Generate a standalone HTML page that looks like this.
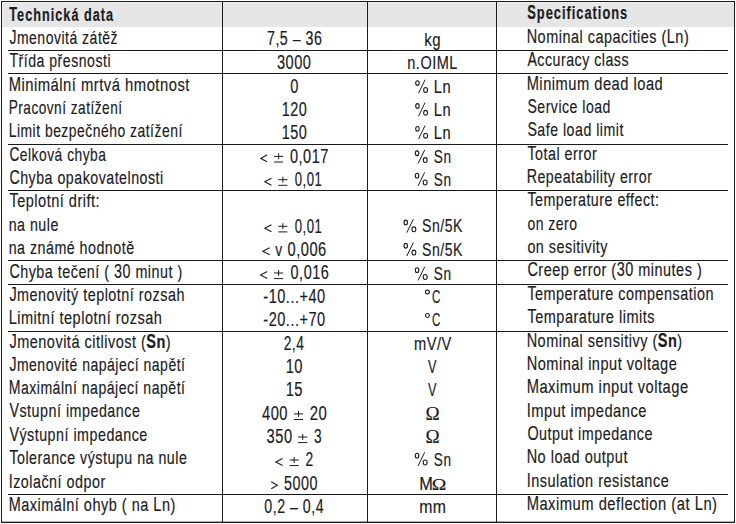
<!DOCTYPE html>
<html><head><meta charset="utf-8"><style>
html,body{margin:0;padding:0;background:#fff;}
body{width:736px;height:524px;overflow:hidden;}
svg{display:block;}
text{font-family:"Liberation Sans",sans-serif;font-size:19.2px;fill:#1b1b22;stroke:#1b1b22;stroke-width:0.18px;white-space:pre;}
text.b{stroke-width:0.2px;}
text.b{font-weight:bold;}
.sym{fill:none;stroke:#1b1b22;stroke-width:1.1px;stroke-linejoin:miter;}
.sym2{fill:none;stroke:#1b1b22;stroke-width:1px;}
.sym3{fill:none;stroke:#1b1b22;stroke-width:1.1px;}
text.rs,text.bs{font-family:"Liberation Serif",serif;}
</style></head><body>
<svg width="736" height="524" viewBox="0 0 736 524">
<rect x="0" y="0" width="736" height="524" fill="#fff"/>
<rect x="2" y="2" width="732" height="25" fill="#f2f2f2"/>
<rect x="3" y="3" width="731" height="24" fill="#e6e6e6"/>
<rect x="1" y="1" width="734" height="1" fill="#1a1a1a"/>
<rect x="1" y="522" width="734" height="1" fill="#1a1a1a"/>
<rect x="1" y="521" width="734" height="1" fill="#1a1a1a" fill-opacity="0.35"/>
<rect x="1" y="1" width="1" height="522" fill="#1a1a1a"/>
<rect x="734" y="1" width="1" height="522" fill="#1a1a1a"/>
<rect x="8" y="50" width="720" height="1" fill="#1a1a1a"/>
<rect x="8" y="73" width="720" height="1" fill="#1a1a1a"/>
<rect x="8" y="144" width="720" height="1" fill="#1a1a1a"/>
<rect x="8" y="190" width="720" height="1" fill="#1a1a1a"/>
<rect x="8" y="260" width="720" height="1" fill="#1a1a1a"/>
<rect x="8" y="284" width="720" height="1" fill="#1a1a1a"/>
<rect x="8" y="331" width="720" height="1" fill="#1a1a1a"/>
<rect x="8" y="494" width="720" height="1" fill="#1a1a1a"/>
<rect x="222" y="1" width="1" height="522" fill="#1a1a1a"/>
<rect x="367" y="1" width="1" height="522" fill="#1a1a1a"/>
<rect x="496" y="1" width="1" height="522" fill="#1a1a1a"/>
<text class="b" transform="translate(9.30 20.80) scale(0.6616 1.040)" style="letter-spacing:1.511px">T</text>
<text class="b" transform="translate(17.11 20.80) scale(0.6616 1.000)" style="letter-spacing:1.511px">echnická data</text>
<text class="b" transform="translate(527.30 18.60) scale(0.6684 1.040)" style="letter-spacing:1.496px">S</text>
<text class="b" transform="translate(536.85 18.60) scale(0.6684 1.000)" style="letter-spacing:1.496px">pecifications</text>
<text class="r" transform="translate(9.40 44.00) scale(0.7295 1.040)" style="letter-spacing:0.685px">J</text>
<text class="r" transform="translate(16.90 44.00) scale(0.7295 1.000)" style="letter-spacing:0.685px">menovitá zátěž</text>
<text class="r" transform="translate(9.40 66.70) scale(0.7356 1.040)" style="letter-spacing:0.680px">T</text>
<text class="r" transform="translate(18.52 66.70) scale(0.7356 1.000)" style="letter-spacing:0.680px">řída přesnosti</text>
<text class="r" transform="translate(8.63 90.80) scale(0.7710 1.040)" style="letter-spacing:0.649px">M</text>
<text class="r" transform="translate(21.45 90.80) scale(0.7710 1.000)" style="letter-spacing:0.649px">inimální mrtvá hmotnost</text>
<text class="r" transform="translate(8.69 113.80) scale(0.7106 1.040)" style="letter-spacing:0.704px">P</text>
<text class="r" transform="translate(18.28 113.80) scale(0.7106 1.000)" style="letter-spacing:0.704px">racovní zatížení</text>
<text class="r" transform="translate(8.67 136.70) scale(0.7251 1.040)" style="letter-spacing:0.690px">L</text>
<text class="r" transform="translate(16.91 136.70) scale(0.7251 1.000)" style="letter-spacing:0.690px">imit bezpečného zatížení</text>
<text class="r" transform="translate(9.40 160.50) scale(0.7196 1.040)" style="letter-spacing:0.695px">C</text>
<text class="r" transform="translate(19.87 160.50) scale(0.7196 1.000)" style="letter-spacing:0.695px">elková chyba</text>
<text class="r" transform="translate(9.40 183.80) scale(0.7409 1.040)" style="letter-spacing:0.675px">C</text>
<text class="r" transform="translate(20.17 183.80) scale(0.7409 1.000)" style="letter-spacing:0.675px">hyba opakovatelnosti</text>
<text class="r" transform="translate(9.40 206.60) scale(0.7575 1.040)" style="letter-spacing:0.660px">T</text>
<text class="r" transform="translate(17.17 206.60) scale(0.7575 1.000)" style="letter-spacing:0.660px">eplotní drift:</text>
<text class="r" transform="translate(8.66 230.50) scale(0.7425 1.000)" style="letter-spacing:0.673px">na nule</text>
<text class="r" transform="translate(8.66 253.80) scale(0.7420 1.000)" style="letter-spacing:0.674px">na známé hodnotě</text>
<text class="r" transform="translate(9.40 277.60) scale(0.7464 1.040)" style="letter-spacing:0.670px">C</text>
<text class="r" transform="translate(20.24 277.60) scale(0.7464 1.000)" style="letter-spacing:0.670px">hyba tečení ( </text>
<text class="r" transform="translate(114.02 277.60) scale(0.7464 1.040)" style="letter-spacing:0.670px">30</text>
<text class="r" transform="translate(130.94 277.60) scale(0.7464 1.000)" style="letter-spacing:0.670px"> minut )</text>
<text class="r" transform="translate(9.40 301.10) scale(0.7497 1.040)" style="letter-spacing:0.667px">J</text>
<text class="r" transform="translate(17.09 301.10) scale(0.7497 1.000)" style="letter-spacing:0.667px">menovitý teplotní rozsah</text>
<text class="r" transform="translate(8.64 323.80) scale(0.7579 1.040)" style="letter-spacing:0.660px">L</text>
<text class="r" transform="translate(17.23 323.80) scale(0.7579 1.000)" style="letter-spacing:0.660px">imitní teplotní rozsah</text>
<text class="r" transform="translate(9.40 348.00) scale(0.7553 1.040)" style="letter-spacing:0.662px">J</text>
<text class="r" transform="translate(17.15 348.00) scale(0.7553 1.000)" style="letter-spacing:0.662px">menovitá citlivost (</text>
<text class="b" transform="translate(146.35 348.00) scale(0.7553 1.040)" style="letter-spacing:0.662px">S</text>
<text class="b" transform="translate(156.51 348.00) scale(0.7553 1.000)" style="letter-spacing:0.662px">n</text>
<text class="r" transform="translate(165.87 348.00) scale(0.7553 1.000)" style="letter-spacing:0.662px">)</text>
<text class="r" transform="translate(9.40 370.50) scale(0.7304 1.040)" style="letter-spacing:0.685px">J</text>
<text class="r" transform="translate(16.91 370.50) scale(0.7304 1.000)" style="letter-spacing:0.685px">menovité napájecí napětí</text>
<text class="r" transform="translate(8.67 393.80) scale(0.7337 1.040)" style="letter-spacing:0.681px">M</text>
<text class="r" transform="translate(20.89 393.80) scale(0.7337 1.000)" style="letter-spacing:0.681px">aximální napájecí napětí</text>
<text class="r" transform="translate(9.40 417.40) scale(0.7458 1.040)" style="letter-spacing:0.670px">V</text>
<text class="r" transform="translate(19.44 417.40) scale(0.7458 1.000)" style="letter-spacing:0.670px">stupní impedance</text>
<text class="r" transform="translate(9.40 440.80) scale(0.7449 1.040)" style="letter-spacing:0.671px">V</text>
<text class="r" transform="translate(19.43 440.80) scale(0.7449 1.000)" style="letter-spacing:0.671px">ýstupní impedance</text>
<text class="r" transform="translate(9.40 463.80) scale(0.7424 1.040)" style="letter-spacing:0.674px">T</text>
<text class="r" transform="translate(17.02 463.80) scale(0.7424 1.000)" style="letter-spacing:0.674px">olerance výstupu na nule</text>
<text class="r" transform="translate(8.65 488.00) scale(0.7466 1.040)" style="letter-spacing:0.670px">I</text>
<text class="r" transform="translate(13.13 488.00) scale(0.7466 1.000)" style="letter-spacing:0.670px">zolační odpor</text>
<text class="r" transform="translate(8.64 510.80) scale(0.7562 1.040)" style="letter-spacing:0.661px">M</text>
<text class="r" transform="translate(21.23 510.80) scale(0.7562 1.000)" style="letter-spacing:0.661px">aximální ohyb ( na </text>
<text class="r" transform="translate(153.32 510.80) scale(0.7562 1.040)" style="letter-spacing:0.661px">L</text>
<text class="r" transform="translate(161.89 510.80) scale(0.7562 1.000)" style="letter-spacing:0.661px">n)</text>
<text class="r" transform="translate(267.00 45.40) scale(0.7411 1.010)" style="letter-spacing:0.675px">7</text>
<text class="r" transform="translate(275.41 45.40) scale(0.7411 1.000)" style="letter-spacing:0.675px">,</text>
<text class="r" transform="translate(279.86 45.40) scale(0.7411 1.010)" style="letter-spacing:0.675px">5</text>
<text class="r" transform="translate(288.27 45.40) scale(0.7411 1.000)" style="letter-spacing:0.675px"> – </text>
<text class="r" transform="translate(305.58 45.40) scale(0.7411 1.010)" style="letter-spacing:0.675px">36</text>
<text class="r" transform="translate(277.00 68.50) scale(0.7593 1.010)" style="letter-spacing:0.659px">3000</text>
<text class="r" transform="translate(290.30 92.50) scale(0.7600 1.010)" style="letter-spacing:0.658px">0</text>
<text class="r" transform="translate(281.65 115.60) scale(0.7514 1.010)" style="letter-spacing:0.665px">120</text>
<text class="r" transform="translate(281.65 138.50) scale(0.7514 1.010)" style="letter-spacing:0.665px">150</text>
<text class="r" transform="translate(290.00 162.60) scale(0.7562 1.010)" style="letter-spacing:0.661px">0</text>
<text class="r" transform="translate(298.57 162.60) scale(0.7562 1.000)" style="letter-spacing:0.661px">,</text>
<text class="r" transform="translate(303.10 162.60) scale(0.7562 1.010)" style="letter-spacing:0.661px">017</text>
<text class="r" transform="translate(294.80 185.90) scale(0.6817 1.010)" style="letter-spacing:0.733px">0</text>
<text class="r" transform="translate(302.57 185.90) scale(0.6817 1.000)" style="letter-spacing:0.733px">,</text>
<text class="r" transform="translate(306.71 185.90) scale(0.6817 1.010)" style="letter-spacing:0.733px">01</text>
<text class="r" transform="translate(294.70 232.50) scale(0.6871 1.010)" style="letter-spacing:0.728px">0</text>
<text class="r" transform="translate(302.53 232.50) scale(0.6871 1.000)" style="letter-spacing:0.728px">,</text>
<text class="r" transform="translate(306.70 232.50) scale(0.6871 1.010)" style="letter-spacing:0.728px">01</text>
<text class="r" transform="translate(275.30 255.50) scale(0.7200 1.000)" style="letter-spacing:0.694px">v</text>
<text class="r" transform="translate(287.50 255.50) scale(0.7646 1.010)" style="letter-spacing:0.654px">0</text>
<text class="r" transform="translate(296.16 255.50) scale(0.7646 1.000)" style="letter-spacing:0.654px">,</text>
<text class="r" transform="translate(300.74 255.50) scale(0.7646 1.010)" style="letter-spacing:0.654px">006</text>
<text class="r" transform="translate(290.60 279.20) scale(0.7519 1.010)" style="letter-spacing:0.665px">0</text>
<text class="r" transform="translate(299.12 279.20) scale(0.7519 1.000)" style="letter-spacing:0.665px">,</text>
<text class="r" transform="translate(303.63 279.20) scale(0.7519 1.010)" style="letter-spacing:0.665px">016</text>
<text class="r" transform="translate(263.30 302.60) scale(0.7592 1.000)" style="letter-spacing:0.659px">-</text>
<text class="r" transform="translate(268.65 302.60) scale(0.7592 1.010)" style="letter-spacing:0.659px">10</text>
<text class="r" transform="translate(285.86 302.60) scale(0.7592 1.000)" style="letter-spacing:0.659px">...+</text>
<text class="r" transform="translate(308.51 302.60) scale(0.7592 1.010)" style="letter-spacing:0.659px">40</text>
<text class="r" transform="translate(263.30 325.60) scale(0.7592 1.000)" style="letter-spacing:0.659px">-</text>
<text class="r" transform="translate(268.65 325.60) scale(0.7592 1.010)" style="letter-spacing:0.659px">20</text>
<text class="r" transform="translate(285.86 325.60) scale(0.7592 1.000)" style="letter-spacing:0.659px">...+</text>
<text class="r" transform="translate(308.51 325.60) scale(0.7592 1.010)" style="letter-spacing:0.659px">70</text>
<text class="r" transform="translate(283.70 350.00) scale(0.7185 1.010)" style="letter-spacing:0.696px">2</text>
<text class="r" transform="translate(291.87 350.00) scale(0.7185 1.000)" style="letter-spacing:0.696px">,</text>
<text class="r" transform="translate(296.20 350.00) scale(0.7185 1.010)" style="letter-spacing:0.696px">4</text>
<text class="r" transform="translate(285.63 372.60) scale(0.7676 1.010)" style="letter-spacing:0.651px">10</text>
<text class="r" transform="translate(285.63 395.60) scale(0.7676 1.010)" style="letter-spacing:0.651px">15</text>
<text class="r" transform="translate(262.00 420.10) scale(0.7657 1.010)" style="letter-spacing:0.653px">400</text>
<text class="r" transform="translate(309.80 420.10) scale(0.7740 1.010)" style="letter-spacing:0.646px">20</text>
<text class="r" transform="translate(266.60 443.20) scale(0.7625 1.010)" style="letter-spacing:0.656px">350</text>
<text class="r" transform="translate(314.10 443.20) scale(0.7100 1.010)" style="letter-spacing:0.704px">3</text>
<text class="r" transform="translate(305.40 466.20) scale(0.7200 1.010)" style="letter-spacing:0.694px">2</text>
<text class="r" transform="translate(284.10 489.50) scale(0.7498 1.010)" style="letter-spacing:0.667px">5000</text>
<text class="r" transform="translate(264.30 512.80) scale(0.7399 1.010)" style="letter-spacing:0.676px">0</text>
<text class="r" transform="translate(272.70 512.80) scale(0.7399 1.000)" style="letter-spacing:0.676px">,</text>
<text class="r" transform="translate(277.14 512.80) scale(0.7399 1.010)" style="letter-spacing:0.676px">2</text>
<text class="r" transform="translate(285.54 512.80) scale(0.7399 1.000)" style="letter-spacing:0.676px"> – </text>
<text class="r" transform="translate(302.82 512.80) scale(0.7399 1.010)" style="letter-spacing:0.676px">0</text>
<text class="r" transform="translate(311.22 512.80) scale(0.7399 1.000)" style="letter-spacing:0.676px">,</text>
<text class="r" transform="translate(315.66 512.80) scale(0.7399 1.010)" style="letter-spacing:0.676px">4</text>
<text class="r" transform="translate(424.32 45.80) scale(0.7798 1.000)" style="letter-spacing:0.641px">kg</text>
<text class="r" transform="translate(407.24 68.70) scale(0.7583 1.000)" style="letter-spacing:0.659px">n.</text>
<text class="r" transform="translate(420.38 68.70) scale(0.7583 1.000)" style="letter-spacing:0.659px">OIML</text>
<text class="r" transform="translate(433.84 92.90) scale(0.7625 1.000)" style="letter-spacing:0.656px">L</text>
<text class="r" transform="translate(442.47 92.90) scale(0.7625 1.000)" style="letter-spacing:0.656px">n</text>
<text class="r" transform="translate(433.84 115.80) scale(0.7625 1.000)" style="letter-spacing:0.656px">L</text>
<text class="r" transform="translate(442.47 115.80) scale(0.7625 1.000)" style="letter-spacing:0.656px">n</text>
<text class="r" transform="translate(433.84 138.70) scale(0.7625 1.000)" style="letter-spacing:0.656px">L</text>
<text class="r" transform="translate(442.47 138.70) scale(0.7625 1.000)" style="letter-spacing:0.656px">n</text>
<text class="r" transform="translate(433.80 163.10) scale(0.7106 1.000)" style="letter-spacing:0.704px">S</text>
<text class="r" transform="translate(443.39 163.10) scale(0.7106 1.000)" style="letter-spacing:0.704px">n</text>
<text class="r" transform="translate(433.80 185.50) scale(0.7106 1.000)" style="letter-spacing:0.704px">S</text>
<text class="r" transform="translate(443.39 185.50) scale(0.7106 1.000)" style="letter-spacing:0.704px">n</text>
<text class="r" transform="translate(422.10 232.30) scale(0.7337 1.000)" style="letter-spacing:0.681px">S</text>
<text class="r" transform="translate(431.99 232.30) scale(0.7337 1.000)" style="letter-spacing:0.681px">n/</text>
<text class="r" transform="translate(444.73 232.30) scale(0.7337 1.000)" style="letter-spacing:0.681px">5K</text>
<text class="r" transform="translate(422.10 255.60) scale(0.7337 1.000)" style="letter-spacing:0.681px">S</text>
<text class="r" transform="translate(431.99 255.60) scale(0.7337 1.000)" style="letter-spacing:0.681px">n/</text>
<text class="r" transform="translate(444.73 255.60) scale(0.7337 1.000)" style="letter-spacing:0.681px">5K</text>
<text class="r" transform="translate(433.80 280.00) scale(0.7106 1.000)" style="letter-spacing:0.704px">S</text>
<text class="r" transform="translate(443.39 280.00) scale(0.7106 1.000)" style="letter-spacing:0.704px">n</text>
<text class="r" transform="translate(432.00 302.50) scale(0.6000 1.000)" style="letter-spacing:0.833px">C</text>
<text class="r" transform="translate(432.00 325.70) scale(0.6000 1.000)" style="letter-spacing:0.833px">C</text>
<text class="r" transform="translate(413.94 350.10) scale(0.7634 1.000)" style="letter-spacing:0.655px">m</text>
<text class="r" transform="translate(426.64 350.10) scale(0.7634 1.000)" style="letter-spacing:0.655px">V</text>
<text class="r" transform="translate(436.91 350.10) scale(0.7634 1.000)" style="letter-spacing:0.655px">/</text>
<text class="r" transform="translate(441.48 350.10) scale(0.7634 1.000)" style="letter-spacing:0.655px">V</text>
<text class="r" transform="translate(428.10 372.50) scale(0.6615 1.000)" style="letter-spacing:0.756px">V</text>
<text class="r" transform="translate(428.10 395.80) scale(0.6615 1.000)" style="letter-spacing:0.756px">V</text>
<text class="rs" transform="translate(425.51 419.80) scale(0.9923 1.000)" style="letter-spacing:0.504px">Ω</text>
<text class="rs" transform="translate(425.51 442.60) scale(0.9923 1.000)" style="letter-spacing:0.504px">Ω</text>
<text class="r" transform="translate(433.80 465.50) scale(0.7106 1.000)" style="letter-spacing:0.704px">S</text>
<text class="r" transform="translate(443.39 465.50) scale(0.7106 1.000)" style="letter-spacing:0.704px">n</text>
<text class="r" transform="translate(419.15 490.00) scale(0.8500 1.000)" style="letter-spacing:0.588px">M</text>
<text class="rs" transform="translate(431.78 489.70) scale(1.0231 0.840)" style="letter-spacing:0.489px">Ω</text>
<text class="r" transform="translate(419.18 512.80) scale(0.8238 1.000)" style="letter-spacing:0.607px">mm</text>
<text class="r" transform="translate(526.65 42.70) scale(0.7534 1.040)" style="letter-spacing:0.664px">N</text>
<text class="r" transform="translate(537.59 42.70) scale(0.7534 1.000)" style="letter-spacing:0.664px">ominal capacities (</text>
<text class="r" transform="translate(666.80 42.70) scale(0.7534 1.040)" style="letter-spacing:0.664px">L</text>
<text class="r" transform="translate(675.34 42.70) scale(0.7534 1.000)" style="letter-spacing:0.664px">n)</text>
<text class="r" transform="translate(527.40 66.10) scale(0.7389 1.040)" style="letter-spacing:0.677px">A</text>
<text class="r" transform="translate(537.36 66.10) scale(0.7389 1.000)" style="letter-spacing:0.677px">ccuracy class</text>
<text class="r" transform="translate(526.63 89.80) scale(0.7655 1.040)" style="letter-spacing:0.653px">M</text>
<text class="r" transform="translate(539.37 89.80) scale(0.7655 1.000)" style="letter-spacing:0.653px">inimum dead load</text>
<text class="r" transform="translate(527.40 112.90) scale(0.7349 1.040)" style="letter-spacing:0.680px">S</text>
<text class="r" transform="translate(537.30 112.90) scale(0.7349 1.000)" style="letter-spacing:0.680px">ervice load</text>
<text class="r" transform="translate(527.40 136.00) scale(0.7377 1.040)" style="letter-spacing:0.678px">S</text>
<text class="r" transform="translate(537.34 136.00) scale(0.7377 1.000)" style="letter-spacing:0.678px">afe load limit</text>
<text class="r" transform="translate(527.40 159.80) scale(0.7438 1.040)" style="letter-spacing:0.672px">T</text>
<text class="r" transform="translate(535.04 159.80) scale(0.7438 1.000)" style="letter-spacing:0.672px">otal error</text>
<text class="r" transform="translate(526.66 182.50) scale(0.7424 1.040)" style="letter-spacing:0.673px">R</text>
<text class="r" transform="translate(537.45 182.50) scale(0.7424 1.000)" style="letter-spacing:0.673px">epeatability error</text>
<text class="r" transform="translate(527.40 205.70) scale(0.7432 1.040)" style="letter-spacing:0.673px">T</text>
<text class="r" transform="translate(535.03 205.70) scale(0.7432 1.000)" style="letter-spacing:0.673px">emperature effect:</text>
<text class="r" transform="translate(527.40 229.50) scale(0.7280 1.000)" style="letter-spacing:0.687px">on zero</text>
<text class="r" transform="translate(527.40 252.80) scale(0.7472 1.000)" style="letter-spacing:0.669px">on sesitivity</text>
<text class="r" transform="translate(527.40 276.20) scale(0.7535 1.040)" style="letter-spacing:0.664px">C</text>
<text class="r" transform="translate(538.34 276.20) scale(0.7535 1.000)" style="letter-spacing:0.664px">reep error (</text>
<text class="r" transform="translate(616.65 276.20) scale(0.7535 1.040)" style="letter-spacing:0.664px">30</text>
<text class="r" transform="translate(633.73 276.20) scale(0.7535 1.000)" style="letter-spacing:0.664px"> minutes )</text>
<text class="r" transform="translate(527.40 299.80) scale(0.7501 1.040)" style="letter-spacing:0.667px">T</text>
<text class="r" transform="translate(535.10 299.80) scale(0.7501 1.000)" style="letter-spacing:0.667px">emperature compensation</text>
<text class="r" transform="translate(527.40 322.50) scale(0.7570 1.040)" style="letter-spacing:0.661px">T</text>
<text class="r" transform="translate(535.16 322.50) scale(0.7570 1.000)" style="letter-spacing:0.661px">emparature limits</text>
<text class="r" transform="translate(526.64 347.20) scale(0.7553 1.040)" style="letter-spacing:0.662px">N</text>
<text class="r" transform="translate(537.61 347.20) scale(0.7553 1.000)" style="letter-spacing:0.662px">ominal sensitivy (</text>
<text class="b" transform="translate(657.75 347.20) scale(0.7553 1.040)" style="letter-spacing:0.662px">S</text>
<text class="b" transform="translate(667.92 347.20) scale(0.7553 1.000)" style="letter-spacing:0.662px">n</text>
<text class="r" transform="translate(677.27 347.20) scale(0.7553 1.000)" style="letter-spacing:0.662px">)</text>
<text class="r" transform="translate(526.64 369.80) scale(0.7596 1.040)" style="letter-spacing:0.658px">N</text>
<text class="r" transform="translate(537.67 369.80) scale(0.7596 1.000)" style="letter-spacing:0.658px">ominal input voltage</text>
<text class="r" transform="translate(526.63 392.70) scale(0.7683 1.040)" style="letter-spacing:0.651px">M</text>
<text class="r" transform="translate(539.41 392.70) scale(0.7683 1.000)" style="letter-spacing:0.651px">aximum input voltage</text>
<text class="r" transform="translate(526.63 416.70) scale(0.7669 1.040)" style="letter-spacing:0.652px">I</text>
<text class="r" transform="translate(531.22 416.70) scale(0.7669 1.000)" style="letter-spacing:0.652px">mput impedance</text>
<text class="r" transform="translate(527.40 439.70) scale(0.7494 1.040)" style="letter-spacing:0.667px">O</text>
<text class="r" transform="translate(539.08 439.70) scale(0.7494 1.000)" style="letter-spacing:0.667px">utput impedance</text>
<text class="r" transform="translate(526.64 462.70) scale(0.7559 1.040)" style="letter-spacing:0.661px">N</text>
<text class="r" transform="translate(537.62 462.70) scale(0.7559 1.000)" style="letter-spacing:0.661px">o load output</text>
<text class="r" transform="translate(526.65 486.50) scale(0.7550 1.040)" style="letter-spacing:0.662px">I</text>
<text class="r" transform="translate(531.17 486.50) scale(0.7550 1.000)" style="letter-spacing:0.662px">nsulation resistance</text>
<text class="r" transform="translate(526.63 510.00) scale(0.7687 1.040)" style="letter-spacing:0.650px">M</text>
<text class="r" transform="translate(539.42 510.00) scale(0.7687 1.000)" style="letter-spacing:0.650px">aximum deflection (at </text>
<text class="r" transform="translate(694.68 510.00) scale(0.7687 1.040)" style="letter-spacing:0.650px">L</text>
<text class="r" transform="translate(703.39 510.00) scale(0.7687 1.000)" style="letter-spacing:0.650px">n)</text>
<polyline points="267.05,154.85 260.75,158.40 267.05,161.85" class="sym"/>
<path d="M274.10 156.40H283.20M278.65 153.40V159.30M274.10 162.00H283.20" class="sym2"/>
<polyline points="271.45,178.15 264.75,181.70 271.45,185.15" class="sym"/>
<path d="M278.30 179.70H287.40M282.85 176.70V182.60M278.30 185.30H287.40" class="sym2"/>
<polyline points="271.45,224.75 264.75,228.30 271.45,231.75" class="sym"/>
<path d="M278.30 226.30H287.40M282.85 223.30V229.20M278.30 231.90H287.40" class="sym2"/>
<polyline points="269.65,247.75 262.85,251.30 269.65,254.75" class="sym"/>
<polyline points="267.25,271.45 260.55,275.00 267.25,278.45" class="sym"/>
<path d="M274.00 273.00H283.20M278.60 270.00V275.90M274.00 278.60H283.20" class="sym2"/>
<path d="M294.00 413.90H303.00M298.50 410.90V416.80M294.00 419.50H303.00" class="sym2"/>
<path d="M298.10 437.00H307.30M302.70 434.00V439.90M298.10 442.60H307.30" class="sym2"/>
<polyline points="282.55,458.45 275.85,462.00 282.55,465.45" class="sym"/>
<path d="M289.50 460.00H298.80M294.15 457.00V462.90M289.50 465.60H298.80" class="sym2"/>
<polyline points="271.25,481.75 277.35,485.30 271.25,488.75" class="sym"/>
<ellipse cx="417.45" cy="83.05" rx="1.75" ry="2.35" class="sym3"/>
<ellipse cx="425.60" cy="89.90" rx="1.95" ry="2.45" class="sym3"/>
<path d="M425.10 79.70L418.50 93.30" class="sym2"/>
<ellipse cx="417.45" cy="105.95" rx="1.75" ry="2.35" class="sym3"/>
<ellipse cx="425.60" cy="112.80" rx="1.95" ry="2.45" class="sym3"/>
<path d="M425.10 102.60L418.50 116.20" class="sym2"/>
<ellipse cx="417.45" cy="128.85" rx="1.75" ry="2.35" class="sym3"/>
<ellipse cx="425.60" cy="135.70" rx="1.95" ry="2.45" class="sym3"/>
<path d="M425.10 125.50L418.50 139.10" class="sym2"/>
<ellipse cx="417.05" cy="153.25" rx="1.75" ry="2.35" class="sym3"/>
<ellipse cx="425.20" cy="160.10" rx="1.95" ry="2.45" class="sym3"/>
<path d="M424.70 149.90L418.10 163.50" class="sym2"/>
<ellipse cx="417.05" cy="175.65" rx="1.75" ry="2.35" class="sym3"/>
<ellipse cx="425.20" cy="182.50" rx="1.95" ry="2.45" class="sym3"/>
<path d="M424.70 172.30L418.10 185.90" class="sym2"/>
<ellipse cx="405.75" cy="222.45" rx="1.75" ry="2.35" class="sym3"/>
<ellipse cx="413.90" cy="229.30" rx="1.95" ry="2.45" class="sym3"/>
<path d="M413.40 219.10L406.80 232.70" class="sym2"/>
<ellipse cx="405.75" cy="245.75" rx="1.75" ry="2.35" class="sym3"/>
<ellipse cx="413.90" cy="252.60" rx="1.95" ry="2.45" class="sym3"/>
<path d="M413.40 242.40L406.80 256.00" class="sym2"/>
<ellipse cx="417.05" cy="270.15" rx="1.75" ry="2.35" class="sym3"/>
<ellipse cx="425.20" cy="277.00" rx="1.95" ry="2.45" class="sym3"/>
<path d="M424.70 266.80L418.10 280.40" class="sym2"/>
<circle cx="427.40" cy="292.10" r="1.95" class="sym"/>
<circle cx="427.40" cy="315.50" r="1.95" class="sym"/>
<ellipse cx="417.05" cy="455.65" rx="1.75" ry="2.35" class="sym3"/>
<ellipse cx="425.20" cy="462.50" rx="1.95" ry="2.45" class="sym3"/>
<path d="M424.70 452.30L418.10 465.90" class="sym2"/>
</svg>
</body></html>
